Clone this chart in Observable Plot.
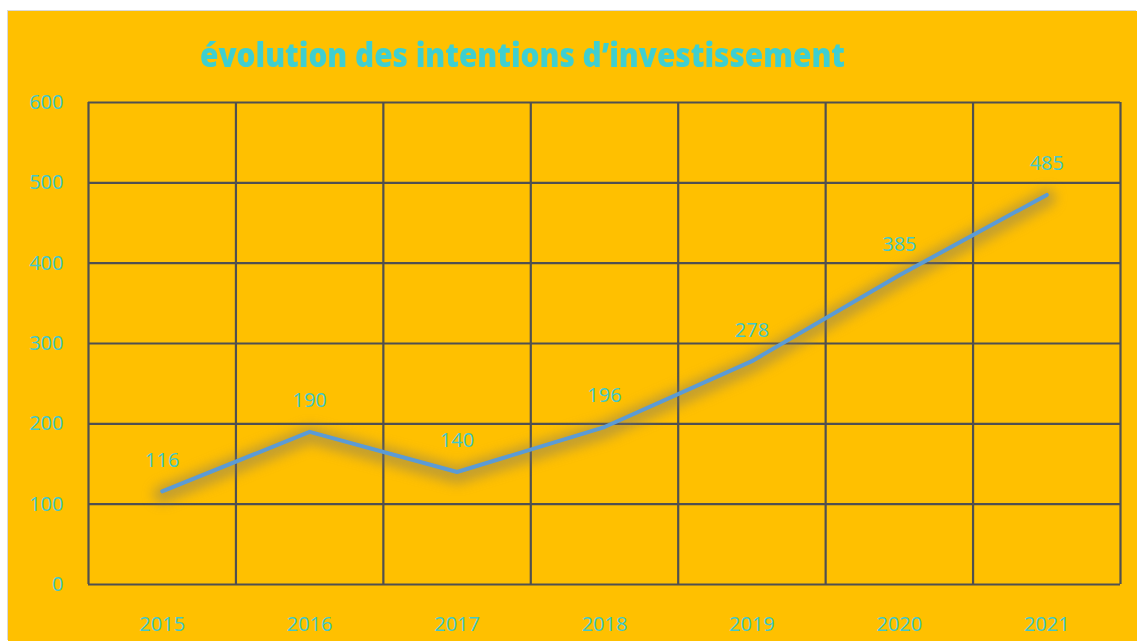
<!DOCTYPE html>
<html><head><meta charset="utf-8">
<script src="https://cdn.jsdelivr.net/npm/d3@7"></script>
<script src="https://cdn.jsdelivr.net/npm/@observablehq/plot@0.6"></script>
<style>
html,body{margin:0;padding:0;background:#fff;width:1137px;height:641px;overflow:hidden;}
#chart{position:absolute;left:8px;top:11px;width:1129px;height:630px;background:#FFC000;box-shadow:-1px -1px 0 #d9d9d9;}
#chart svg{position:absolute;left:0;top:0;}
#title{position:absolute;top:27px;left:0;white-space:nowrap;font-family:"Open Sans";font-weight:800;font-size:33px;line-height:33px;color:#3FCFD0;transform-origin:0 0;}
</style></head>
<body>
<div id="chart"><div id="title">évolution des intentions d’investissement</div></div>
<script>
const years = [2015, 2016, 2017, 2018, 2019, 2020, 2021];
const values = [116, 190, 140, 196, 278, 385, 485];
const yTicks = [0, 100, 200, 300, 400, 500, 600];

const data = years.map((year, i) => ({year, value: values[i]}));
const bounds = [...years.map(y => y - 0.5), years[years.length - 1] + 0.5];
const teal = "#41C8CB";

const plot = Plot.plot({
  width: 1129, height: 630,
  marginLeft: 80, marginRight: 17, marginTop: 91, marginBottom: 57,
  style: {background: "transparent", fontFamily: "Open Sans", fontSize: "20px", color: teal, overflow: "visible"},
  x: {domain: [years[0] - 0.5, years[years.length - 1] + 0.5], ticks: years, tickFormat: d => String(d), tickSize: 0, tickPadding: 32, label: null},
  y: {domain: [0, 600], ticks: yTicks, tickSize: 0, tickPadding: 25, label: null},
  marks: [
    Plot.ruleY(yTicks, {stroke: "#505050", strokeWidth: 2.2}),
    Plot.ruleX(bounds, {stroke: "#505050", strokeWidth: 2.2}),
    Plot.line(data, {x: "year", y: "value", stroke: "#6f6f6f", strokeWidth: 18, strokeOpacity: 0.42, dy: 3, strokeLinecap: "round"}),
    Plot.line(data, {x: "year", y: "value", stroke: "#5B9BD5", strokeWidth: 4, strokeLinecap: "round"}),
    Plot.text(data, {x: "year", y: "value", text: d => String(d.value), dy: -31, fill: teal, fontSize: 20})
  ]
});
const chart = document.getElementById("chart");
chart.appendChild(plot);
const lines = plot.querySelectorAll('g[aria-label="line"]');
if (lines.length) lines[0].style.filter = "blur(6px)";

const title = document.getElementById("title");
const w = title.getBoundingClientRect().width;
const target = 645;
title.style.transform = `scaleX(${target / w})`;
title.style.left = (514.5 - target / 2) + "px";
</script>
</body></html>
